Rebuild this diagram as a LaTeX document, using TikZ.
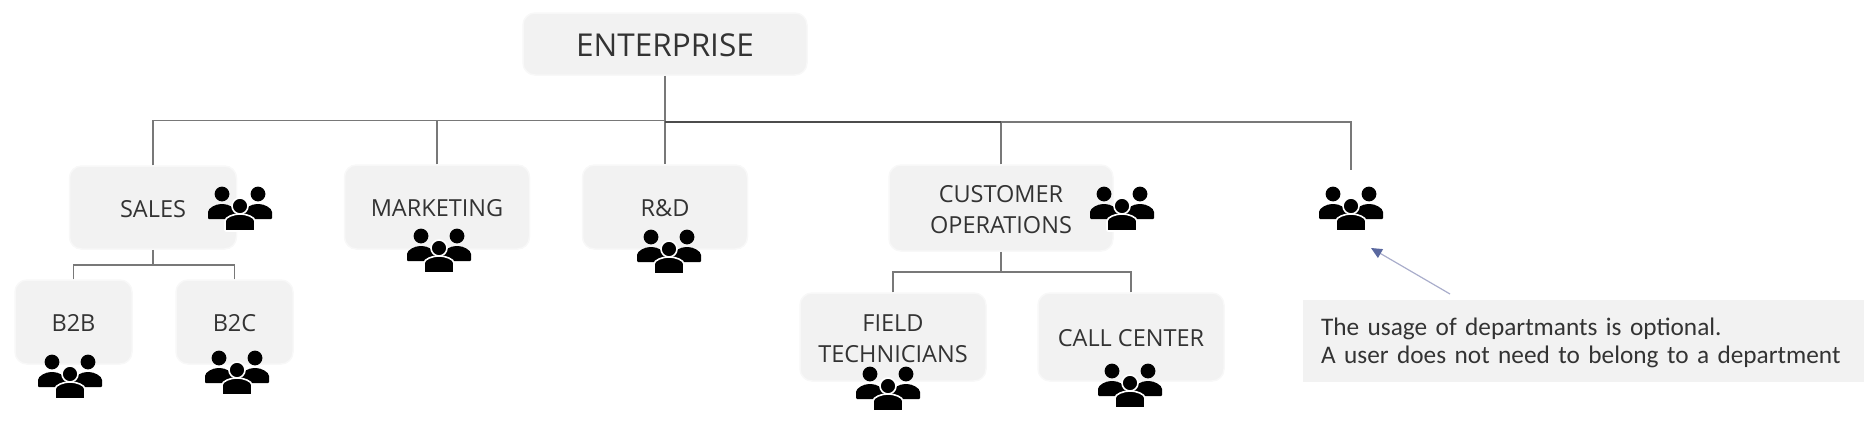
\documentclass[tikz,border=0pt]{standalone}
\usepackage{fontspec}
\setmainfont{Open Sans}
\newfontfamily\notefont{Carlito}
\usetikzlibrary{arrows.meta}
\definecolor{boxgray}{HTML}{F2F2F2}
\definecolor{inkgray}{HTML}{333333}
\definecolor{linegray}{HTML}{787878}
\definecolor{arrowblue}{HTML}{A9ADCB}
\definecolor{tipblue}{HTML}{5A689F}
\newcommand{\lowlabel}[2][-3.8pt]{\raisebox{#1}[\height][\depth]{\begin{tabular}{@{}c@{}}#2\end{tabular}}}
\tikzset{
  x=1pt,y=-1pt,
  orgbox/.style={draw=boxgray!55!white,line width=1.5pt,fill=boxgray,rounded corners=12pt,inner sep=0pt,align=center,text=inkgray,font=\fontsize{23.5}{30.5}\selectfont},
  wire/.style={draw=linegray,line width=1.5pt},
  darkwire/.style={draw=black!70,line width=1.6pt},
  pics/people/.style={code={
    \fill[black] (-18,-13) circle (7.4);
    \fill[black] (18,-13) circle (7.4);
    \fill[black,rounded corners=1pt] (-32,12) -- (-32,6) .. controls (-32,1) and (-24,-3) .. (-18,-3) .. controls (-12,-3) and (-4,1) .. (-4,6) -- (-4,12) -- cycle;
    \fill[black,rounded corners=1pt] (32,12) -- (32,6) .. controls (32,1) and (24,-3) .. (18,-3) .. controls (12,-3) and (4,1) .. (4,6) -- (4,12) -- cycle;
    \fill[black,draw=white,line width=1.6pt] (0,-1) circle (8);
    \fill[black,draw=white,line width=1.6pt,rounded corners=1pt] (-15,24) -- (-15,15) .. controls (-15,10) and (-6,7) .. (0,7) .. controls (6,7) and (15,10) .. (15,15) -- (15,24) -- cycle;
  }}
}
\begin{document}
\begin{tikzpicture}
\useasboundingbox (0,0) rectangle (1876,426);
% boxes
\node[orgbox,minimum width=284pt,minimum height=62pt,font=\fontsize{31.5}{36}\selectfont] (ent) at (665,44) {\lowlabel[-5.5pt]{ENTERPRISE}};
\node[orgbox,minimum width=167pt,minimum height=83pt] (sales) at (153,207.5) {\lowlabel{SALES}};
\node[orgbox,minimum width=185pt,minimum height=84pt] (mkt) at (437,207) {\lowlabel{MARKETING}};
\node[orgbox,minimum width=165pt,minimum height=84pt] (rd) at (665,207) {\lowlabel{R\&D}};
\node[orgbox,minimum width=224pt,minimum height=86pt] (cust) at (1001,208) {\lowlabel{CUSTOMER\\OPERATIONS}};
\node[orgbox,minimum width=117pt,minimum height=84pt] (btob) at (73.5,322) {\lowlabel{B2B}};
\node[orgbox,minimum width=117pt,minimum height=84pt] (btoc) at (234.5,322) {\lowlabel{B2C}};
\node[orgbox,minimum width=186pt,minimum height=88pt] (field) at (893,337) {\lowlabel{FIELD\\TECHNICIANS}};
\node[orgbox,minimum width=186pt,minimum height=88pt] (call) at (1131,337) {\lowlabel{CALL CENTER}};
\node[draw=none,fill=boxgray,minimum width=561pt,minimum height=82pt,inner sep=0pt,text width=525pt,align=left,text=inkgray,font=\notefont\fontsize{25.3}{28}\selectfont] (note) at (1583.5,341) {\rule{0pt}{22pt}The usage of departmants is optional.\\A user does not need to belong to a department};
% junctions
\coordinate (hub) at (665,120.5);
\coordinate (free) at (1351,170);
\coordinate (salesj) at (153,265);
\coordinate (custj) at (1001,272);
\coordinate (start) at (1450,294);
\coordinate (tip) at (1371,248);
% connectors
\draw[wire] (ent.south) -- (rd.north);
\draw[wire] (sales.north) |- (hub);
\draw[wire] (mkt.north) |- (hub);
\draw[wire] (cust.north) -- (1001,122) -- (1351,122) -- (free);
\draw[darkwire] (665,122) -- (1001,122);
\draw[wire] (sales.south) -- (salesj);
\draw[wire] (btob.north) |- (salesj);
\draw[wire] (btoc.north) |- (salesj);
\draw[wire] (cust.south) -- (custj);
\draw[wire] (field.north) |- (custj);
\draw[wire] (call.north) |- (custj);
\draw[draw=arrowblue,line width=1.2pt,-{Triangle[length=11pt,width=10pt,fill=tipblue,color=tipblue]}] (start) -- (tip);
% icons
\pic (p1) at (240,207) {people};
\pic (p2) at (439,249) {people};
\pic (p3) at (669,250) {people};
\pic (p4) at (1122,207) {people};
\pic (p5) at (1351,207) {people};
\pic (p6) at (70,375) {people};
\pic (p7) at (237,371) {people};
\pic (p8) at (888,387) {people};
\pic (p9) at (1130,384) {people};
\end{tikzpicture}
\end{document}
